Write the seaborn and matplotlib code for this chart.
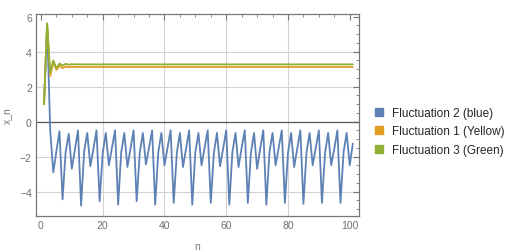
import numpy as np
import pandas as pd
import matplotlib.pyplot as plt
from matplotlib.lines import Line2D
from matplotlib.ticker import MultipleLocator
import seaborn as sns

# values
n = list(range(1, 102))

fluct_blue = [1.0, 5.6, -0.5, -2.9, -1.7, -0.55,
              -4.45, -1.75, -0.7, -2.7, -1.6, -0.5,
              -4.8, -1.7, -0.65, -2.55, -1.55, -0.5,
              -4.55, -1.8, -0.65, -2.5, -1.5, -0.5,
              -4.75, -1.75, -0.65, -2.6, -1.55, -0.5,
              -4.55, -1.8, -0.65, -2.45, -1.5, -0.5,
              -4.75, -1.75, -0.65, -2.5, -1.5, -0.5,
              -4.65, -1.8, -0.65, -2.6, -1.55, -0.5,
              -4.75, -1.75, -0.65, -2.5, -1.5, -0.5,
              -4.65, -1.8, -0.65, -2.55, -1.55, -0.5,
              -4.75, -1.75, -0.65, -2.6, -1.5, -0.5,
              -4.65, -1.8, -0.65, -2.7, -1.55, -0.5,
              -4.75, -1.75, -0.65, -2.5, -1.5, -0.5,
              -4.65, -1.8, -0.65, -2.6, -1.55, -0.5,
              -4.7, -1.75, -0.65, -2.5, -1.5, -0.5,
              -4.65, -1.8, -0.65, -2.5, -1.55, -0.5,
              -4.65, -1.75, -0.65, -2.5, -1.26]

fluct_yellow = [1.0, 5.6, 2.6, 3.4, 2.95, 3.2, 3.05, 3.15, 3.1, 3.13] + [3.12] * 91
fluct_green = [1.0, 5.6, 2.8, 3.5, 3.05, 3.32, 3.2, 3.3, 3.25, 3.28] + [3.27] * 91

labels = ["Fluctuation 2 (blue)", "Fluctuation 1 (Yellow)", "Fluctuation 3 (Green)"]
colors = ["#5E81B5", "#E19C24", "#8FB032"]

df = pd.concat([
    pd.DataFrame({"n": n, "x": fluct_blue, "series": labels[0]}),
    pd.DataFrame({"n": n, "x": fluct_yellow, "series": labels[1]}),
    pd.DataFrame({"n": n, "x": fluct_green, "series": labels[2]}),
])

sns.set_style("white")
plt.rcParams['font.family'] = ['Liberation Sans', 'DejaVu Sans']

fig = plt.figure(figsize=(5.23, 2.53), dpi=100)
ax = fig.add_axes([36 / 523, 1 - 217 / 253, 323 / 523, 202 / 253])

sns.lineplot(data=df, x="n", y="x", hue="series", hue_order=labels,
             palette=colors, linewidth=1.3, legend=False, ax=ax)

ax.set_xlim(-1.6, 103)
ax.set_ylim(-5.4, 6.15)

# grid lines + axis at zero, Mathematica style
for v in [20, 40, 60, 80]:
    ax.axvline(v, color="#d3d3d3", lw=0.8, zorder=0)
for v in [-4, -2, 2, 4]:
    ax.axhline(v, color="#d3d3d3", lw=0.8, zorder=0)
ax.axhline(0, color="#555555", lw=0.9, zorder=1)

ax.xaxis.set_major_locator(MultipleLocator(20))
ax.xaxis.set_minor_locator(MultipleLocator(5))
ax.yaxis.set_major_locator(MultipleLocator(2))
ax.yaxis.set_minor_locator(MultipleLocator(0.5))
ax.tick_params(which="both", direction="in", top=True, right=True,
               color="#777777", labelcolor="#707070", labelsize=7.5, pad=3)
ax.tick_params(which="major", length=4, width=0.8)
ax.tick_params(which="minor", length=2, width=0.6)
ax.tick_params(labeltop=False, labelright=False)
for s in ax.spines.values():
    s.set_color("#777777")
    s.set_linewidth(0.9)

ax.set_xlabel("n", color="#777777", fontsize=7.5, labelpad=8)
ax.set_ylabel("x_n", color="#777777", fontsize=7.5, labelpad=6)

handles = [Line2D([], [], marker="s", ls="", color=c, markersize=5.5) for c in colors]
fig.legend(handles, labels, loc="upper left", bbox_to_anchor=(368 / 523, 1 - 103 / 253),
           frameon=False, fontsize=8.5, handletextpad=0.6, labelspacing=0.55,
           handlelength=1.0, borderaxespad=0)

fig.savefig("out.png", dpi=100)
